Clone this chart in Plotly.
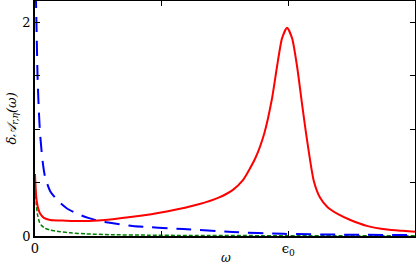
import plotly.graph_objects as go

# red: full spectral change
red_x = [0.0, 0.006, 0.013, 0.025, 0.04, 0.07, 0.12, 0.2, 0.3, 0.5, 0.77, 1.04, 1.3, 1.45, 1.56, 1.64, 1.74, 1.81, 1.87, 1.91, 1.95, 1.99, 2.03, 2.07, 2.11, 2.14, 2.2, 2.25, 2.31, 2.4, 2.49, 2.62, 2.78, 2.9, 3.0]
red_y = [0.58, 0.42, 0.33, 0.26, 0.21, 0.17, 0.15, 0.145, 0.14, 0.145, 0.18, 0.23, 0.3, 0.36, 0.43, 0.52, 0.73, 0.96, 1.28, 1.58, 1.85, 1.95, 1.85, 1.58, 1.22, 0.96, 0.52, 0.36, 0.27, 0.2, 0.15, 0.095, 0.06, 0.048, 0.04]

# blue: long dashes
blue_x = [0.004, 0.008, 0.013, 0.02, 0.03, 0.04, 0.06, 0.08, 0.12, 0.18, 0.25, 0.33, 0.42, 0.51, 0.77, 1.17, 1.56, 1.96, 2.49, 3.0]
blue_y = [2.5, 2.2, 1.9, 1.5, 1.18, 0.96, 0.7, 0.55, 0.42, 0.33, 0.26, 0.21, 0.17, 0.14, 0.094, 0.065, 0.037, 0.02, 0.012, 0.008]

# green: short dashes
green_x = [0.0, 0.004, 0.01, 0.02, 0.035, 0.05, 0.08, 0.12, 0.2, 0.28, 0.4, 0.6, 0.9, 1.2, 2.0, 3.0]
green_y = [0.55, 0.45, 0.3, 0.2, 0.13, 0.1, 0.072, 0.056, 0.04, 0.03, 0.02, 0.012, 0.008, 0.005, 0.003, 0.002]

x_tickvals = [0, 1, 2, 3]
x_ticktext = ["0", "", "ϵ<sub>0</sub>", ""]
y_tickvals = [0, 0.5, 1, 1.5, 2]
y_ticktext = ["0", "", "", "", "2"]

fig = go.Figure()
fig.add_trace(go.Scatter(x=green_x, y=green_y, mode="lines", line=dict(color="#008000", width=1.5, dash="4px,2px", shape="spline", smoothing=0.6)))
fig.add_trace(go.Scatter(x=blue_x, y=blue_y, mode="lines", line=dict(color="#0000ff", width=2, dash="15px,9px", shape="spline", smoothing=0.6)))
fig.add_trace(go.Scatter(x=red_x, y=red_y, mode="lines", line=dict(color="#ff0000", width=2, shape="spline", smoothing=0.6)))

serif = "DejaVu Serif, Liberation Serif, serif"
axis_common = dict(showgrid=False, zeroline=False, showline=True, linecolor="black", linewidth=1.5,
                   mirror="allticks", ticks="inside", ticklen=5, tickcolor="black", tickwidth=1,
                   automargin=False,
                   tickfont=dict(family=serif, size=13, color="black"))
fig.update_xaxes(range=[0, 3], tickvals=x_tickvals, ticktext=x_ticktext, **axis_common)
fig.update_yaxes(range=[0, 2.2], tickvals=y_tickvals, ticktext=y_ticktext, **axis_common)

fig.add_annotation(text="<i>ω</i>", xref="paper", yref="paper", x=0.503, y=0, yshift=-22, showarrow=False,
                   yanchor="middle", font=dict(family=serif, size=12, color="black"))
fig.add_annotation(text="<i>δ𝒜<sub>r,η</sub>(ω)</i>", xref="paper", yref="paper", x=0, xshift=-23, y=0.5,
                   showarrow=False, textangle=-90, xanchor="center", yanchor="middle",
                   font=dict(family=serif, size=13, color="black"))

fig.update_layout(width=416, height=264, margin=dict(l=35, r=1, t=1, b=28, autoexpand=False),
                  plot_bgcolor="white", paper_bgcolor="white", showlegend=False)
fig.write_html("out.html", config={"displayModeBar": False},
               post_script="document.body.style.margin='0';")
